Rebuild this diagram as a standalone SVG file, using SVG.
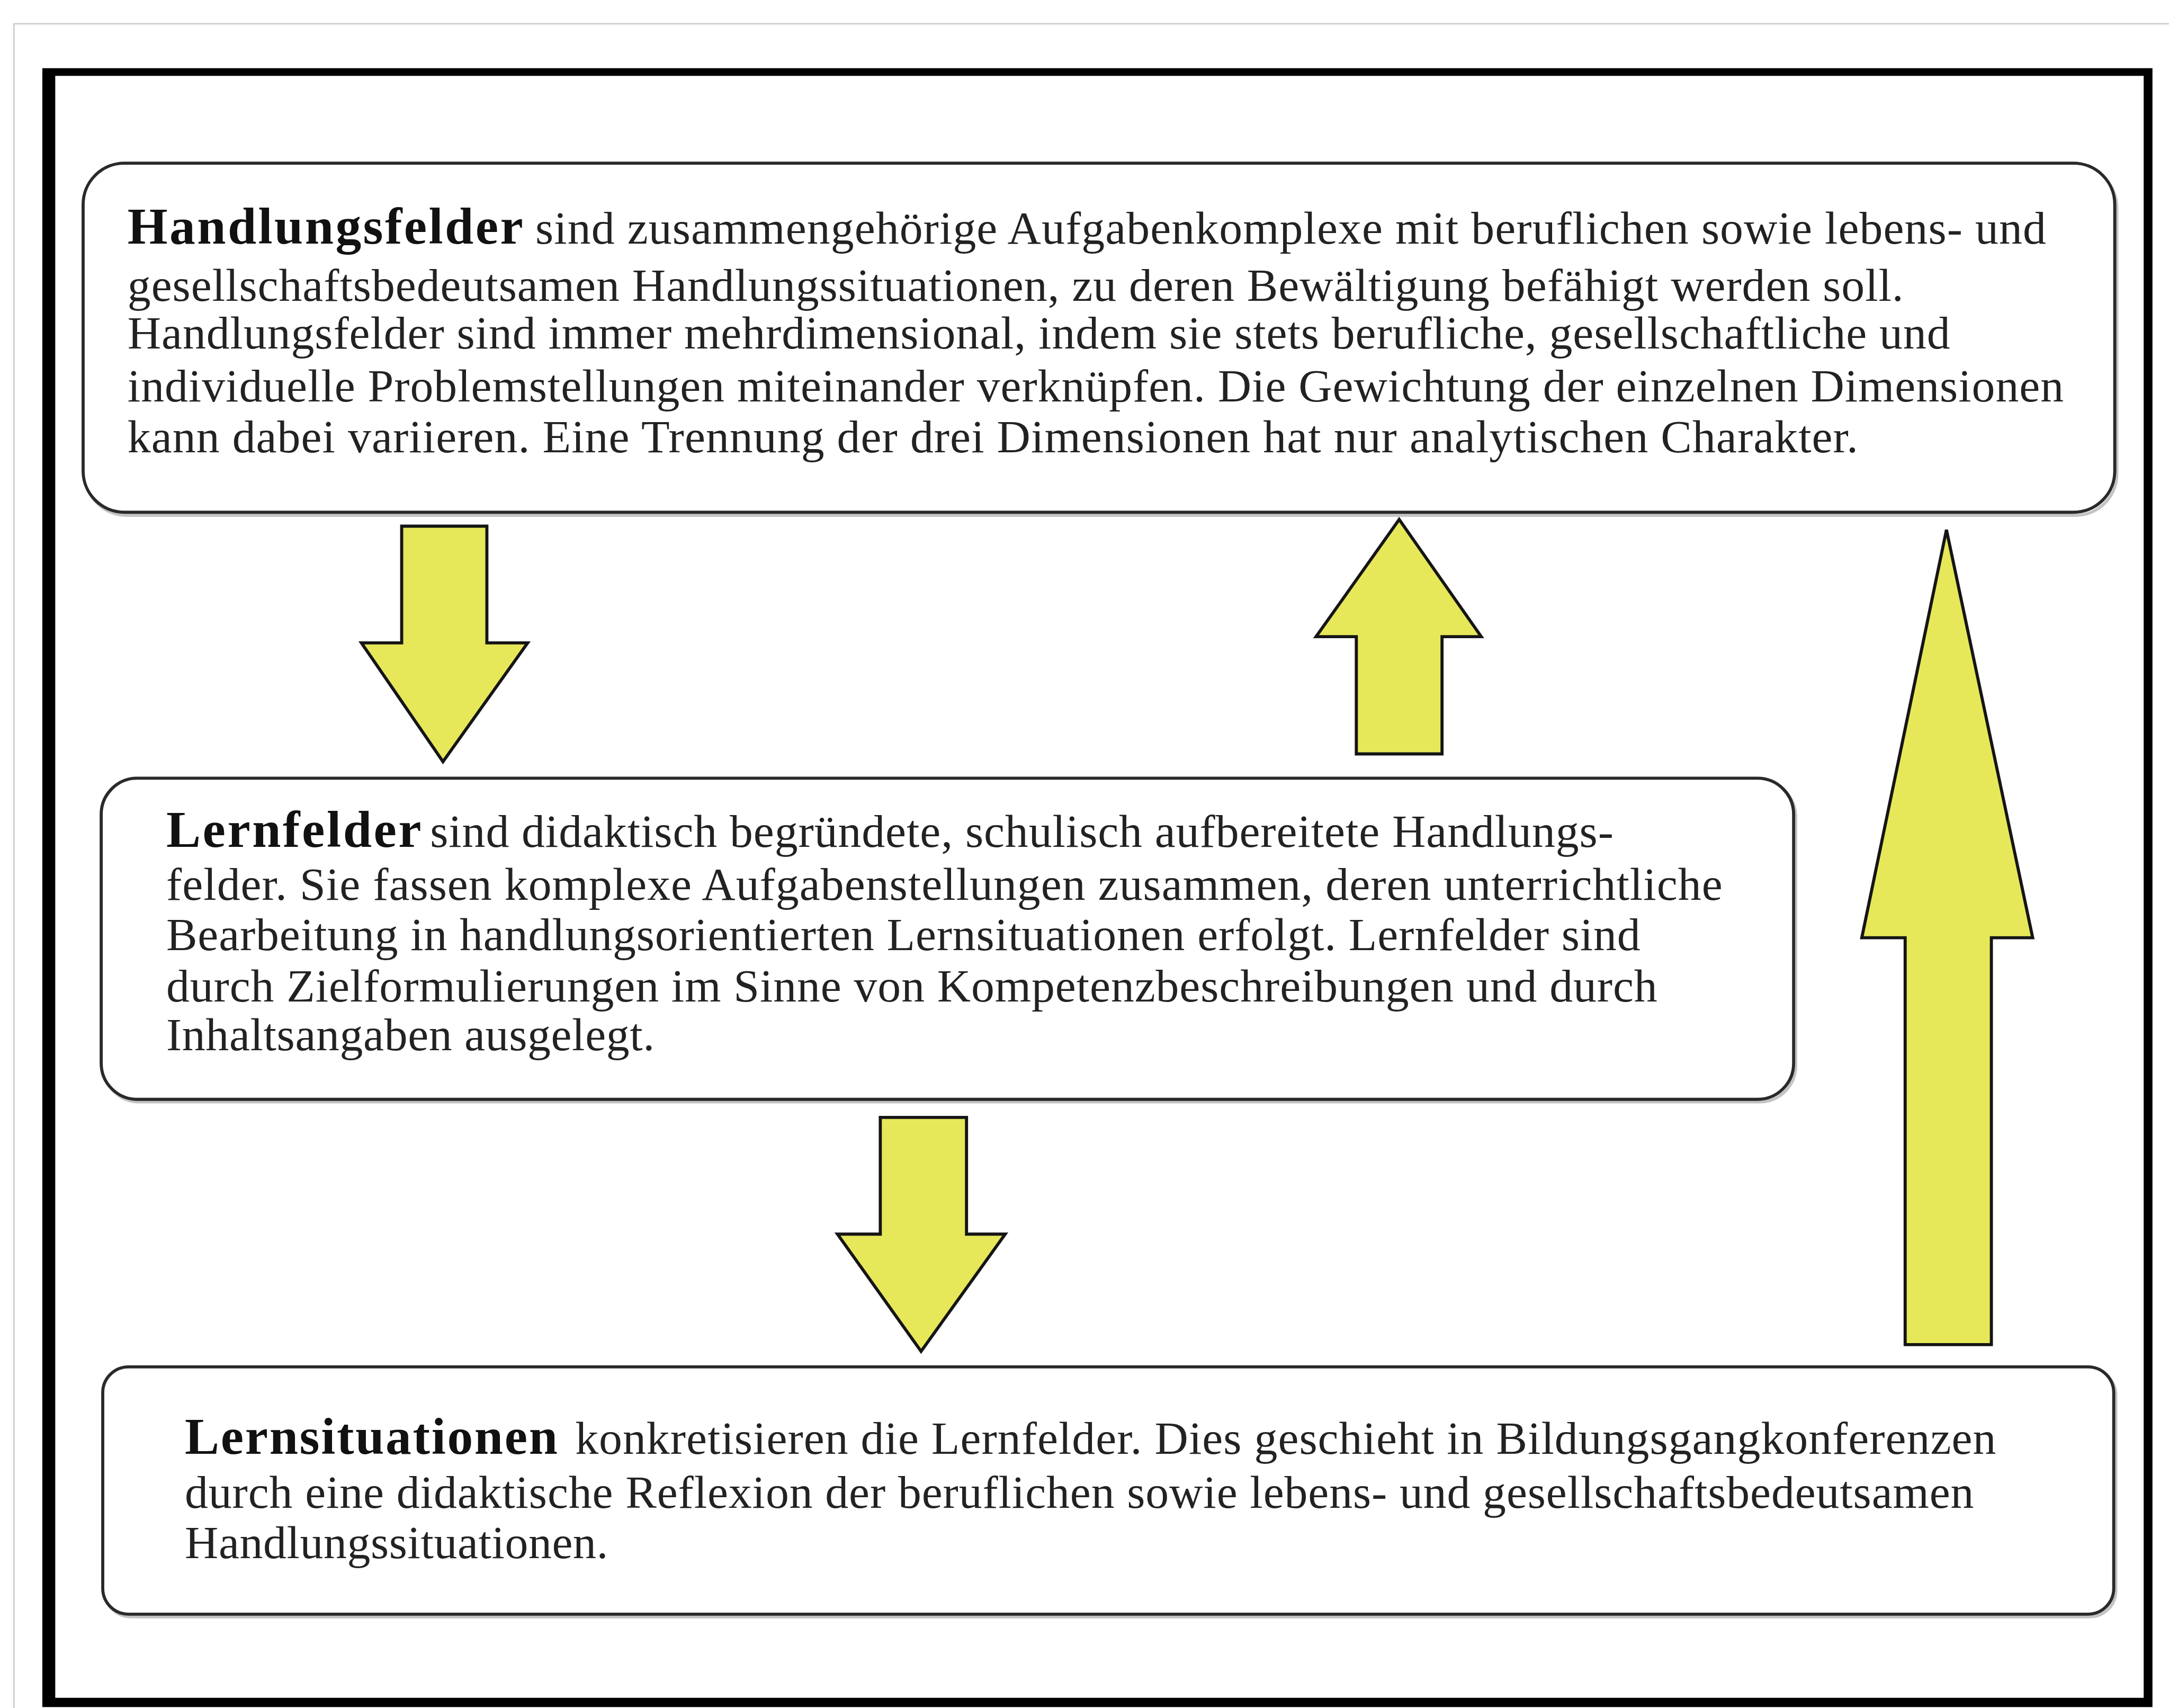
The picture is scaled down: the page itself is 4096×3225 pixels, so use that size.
<svg xmlns="http://www.w3.org/2000/svg" width="4096" height="3225" viewBox="0 0 4096 3225">
<style>
.box{fill:#ffffff;stroke:#2a2a2a;stroke-width:6}
.shadow{fill:none;stroke:#c4c4c4;stroke-width:6}
.arrow{fill:#e6e85a;stroke:#151515;stroke-width:6;stroke-linejoin:miter}
.t{font-family:"Liberation Serif","Times New Roman",serif;font-size:90px;fill:#222222}
.b{font-family:"Liberation Serif","Times New Roman",serif;font-size:100px;font-weight:bold;fill:#111111}
</style>
<rect width="4096" height="3225" fill="#ffffff"/>
<g transform="scale(0.975)">
<g id="frame">
<path d="M27 3308 V46 H4201" fill="none" stroke="#cfcfcf" stroke-width="3"/>
<path d="M82 132 H4169 V3306 H82 Z M107 147 V3288 H4152 V147 Z" fill="#000000" fill-rule="evenodd"/>
</g>
<g id="node-handlungsfelder">
<rect class="shadow" x="165" y="322" width="3935" height="676" rx="80"/>
<rect class="box" x="161" y="316" width="3935" height="676" rx="80"/>
<text class="b" x="247" y="472" textLength="766">Handlungsfelder</text>
<text class="t" x="1037" y="472" textLength="2926">sind zusammengehörige Aufgabenkomplexe mit beruflichen sowie lebens- und</text>
<text class="t" x="247" y="583" textLength="3440">gesellschaftsbedeutsamen Handlungssituationen, zu deren Bewältigung befähigt werden soll.</text>
<text class="t" x="247" y="675" textLength="3530">Handlungsfelder sind immer mehrdimensional, indem sie stets berufliche, gesellschaftliche und</text>
<text class="t" x="247" y="777" textLength="3750">individuelle Problemstellungen miteinander verknüpfen. Die Gewichtung der einzelnen Dimensionen</text>
<text class="t" x="247" y="876" textLength="3352">kann dabei variieren. Eine Trennung der drei Dimensionen hat nur analytischen Charakter.</text>
</g>
<g id="node-lernfelder">
<rect class="shadow" x="200" y="1512" width="3278" height="622" rx="70"/>
<rect class="box" x="196" y="1507" width="3278" height="622" rx="70"/>
<text class="b" x="322" y="1640" textLength="494">Lernfelder</text>
<text class="t" x="833" y="1640" textLength="2292">sind didaktisch begründete, schulisch aufbereitete Handlungs-</text>
<text class="t" x="322" y="1743" textLength="3014">felder. Sie fassen komplexe Aufgabenstellungen zusammen, deren unterrichtliche</text>
<text class="t" x="322" y="1840" textLength="2855">Bearbeitung in handlungsorientierten Lernsituationen erfolgt. Lernfelder sind</text>
<text class="t" x="322" y="1940" textLength="2888">durch Zielformulierungen im Sinne von Kompetenzbeschreibungen und durch</text>
<text class="t" x="322" y="2034" textLength="946">Inhaltsangaben ausgelegt.</text>
</g>
<g id="node-lernsituationen">
<rect class="shadow" x="203" y="2652" width="3895" height="479" rx="50"/>
<rect class="box" x="199" y="2647" width="3895" height="479" rx="50"/>
<text class="b" x="358" y="2815" textLength="722">Lernsituationen</text>
<text class="t" x="1114" y="2815" textLength="2752">konkretisieren die Lernfelder. Dies geschieht in Bildungsgangkonferenzen</text>
<text class="t" x="358" y="2920" textLength="3465">durch eine didaktische Reflexion der beruflichen sowie lebens- und gesellschaftsbedeutsamen</text>
<text class="t" x="358" y="3017" textLength="820">Handlungssituationen.</text>
</g>
<g id="connectors">
<path id="arrow-hf-lf" class="arrow" d="M778 1019 H943 V1245 H1022 L858 1475 L700 1245 H778 Z"/>
<path id="arrow-lf-hf" class="arrow" d="M2627 1460 V1233 H2549 L2710 1006 L2869 1233 H2793 V1460 Z"/>
<path id="arrow-lf-ls" class="arrow" d="M1705 2164 H1872 V2390 H1947 L1784 2617 L1622 2390 H1705 Z"/>
<path id="arrow-ls-hf" class="arrow" d="M3690 2604 V1816 H3606 L3770 1026 L3937 1816 H3857 V2604 Z"/>
</g>
</g>
</svg>
